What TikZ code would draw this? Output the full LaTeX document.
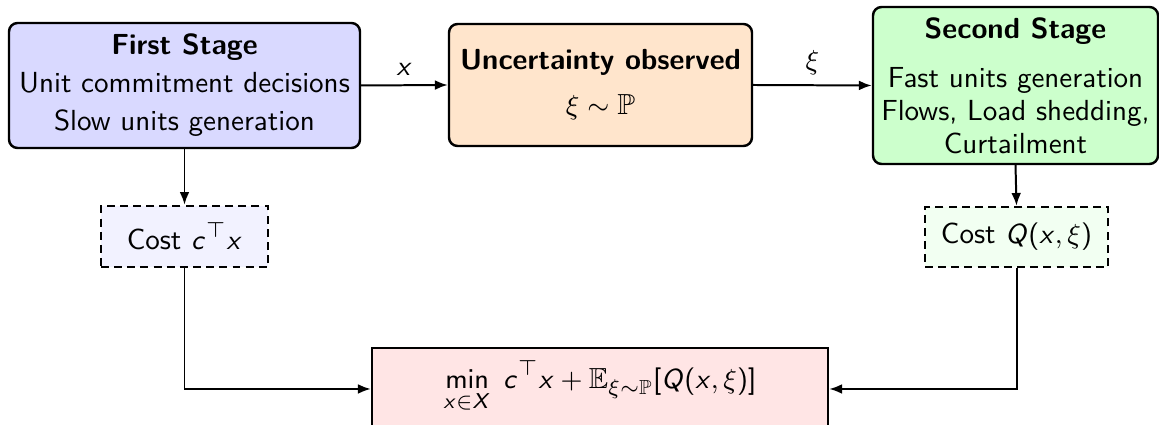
\documentclass[tikz,border=0pt]{standalone}
\usepackage{amssymb}
\usetikzlibrary{arrows.meta}
\renewcommand{\familydefault}{\sfdefault}
\DeclareSymbolFont{sfletters}{OT1}{cmss}{m}{sl}
\SetSymbolFont{operators}{normal}{OT1}{cmss}{m}{n}
\DeclareMathSymbol{x}{\mathalpha}{sfletters}{`x}
\DeclareMathSymbol{c}{\mathalpha}{sfletters}{`c}
\DeclareMathSymbol{Q}{\mathalpha}{sfletters}{`Q}
\DeclareMathSymbol{X}{\mathalpha}{sfletters}{`X}
\newcommand\pxu{0.327pt}
\begin{document}
\begin{tikzpicture}[x=0.327pt,y=-0.327pt,
  stagebox/.style={draw, rounded corners=2.8pt, line width=0.8pt, align=center, inner sep=0pt},
  costbox/.style={draw, dash pattern=on 2.6pt off 1.7pt, line width=0.75pt, inner sep=0pt, font=\fontsize{9.5}{12}\selectfont},
  conn/.style={line width=0.65pt, -{Latex[length=4.2pt,width=3.2pt]}},
  lbl/.style={inner sep=0pt, font=\fontsize{9.5}{12}\selectfont}]
\useasboundingbox (0,0) rectangle (1159,425);
\node[stagebox, fill=blue!15, minimum width=351*\pxu, minimum height=125*\pxu,
  font=\fontsize{9.5}{12.4}\selectfont] (fs) at (184.5,85.5)
  {{\bfseries First Stage}\\Unit commitment decisions\\Slow units generation};
\node[stagebox, fill=orange!20, minimum width=303*\pxu, minimum height=122*\pxu,
  font=\fontsize{9.5}{12.4}\selectfont] (unc) at (600.5,85)
  {{\bfseries Uncertainty observed}\\[2.3pt]$\xi\sim\mathbb{P}$};
\node[stagebox, fill=green!20, minimum width=285*\pxu, minimum height=157*\pxu,
  font=\fontsize{9.5}{10.8}\selectfont] (ss) at (1015.5,85.5)
  {{\bfseries Second Stage}\\[5.2pt]Fast units generation\\Flows, Load shedding,\\Curtailment};
\node[costbox, fill=blue!5, minimum width=167*\pxu, minimum height=61*\pxu] (cc) at (184.5,236.5)
  {Cost $c^{\top}x$};
\node[costbox, fill=green!5, minimum width=183*\pxu, minimum height=60*\pxu] (cq) at (1016.5,237)
  {Cost $Q(x,\xi)$};
\node[draw, line width=0.8pt, fill=red!10, minimum width=456*\pxu, minimum height=78*\pxu, inner sep=0pt,
  font=\fontsize{9.5}{12}\selectfont] (mn) at (600,387)
  {$\displaystyle\min_{x\in X}\; c^{\top}x+\mathbb{E}_{\xi\sim\mathbb{P}}[Q(x,\xi)]$};
\draw[conn] (fs.east) -- node[lbl, midway, yshift=5.2pt] {$x$} (unc.west);
\draw[conn] (unc.east) -- node[lbl, midway, yshift=7.5pt] {$\xi$} (ss.west);
\draw[conn] (fs.south) -- (cc.north);
\draw[conn] (ss.south) -- (cq.north);
\draw[conn] (cc.south) |- ([yshift=-0.65pt]mn.west);
\draw[conn] (cq.south) |- ([yshift=-0.65pt]mn.east);
\end{tikzpicture}
\end{document}
